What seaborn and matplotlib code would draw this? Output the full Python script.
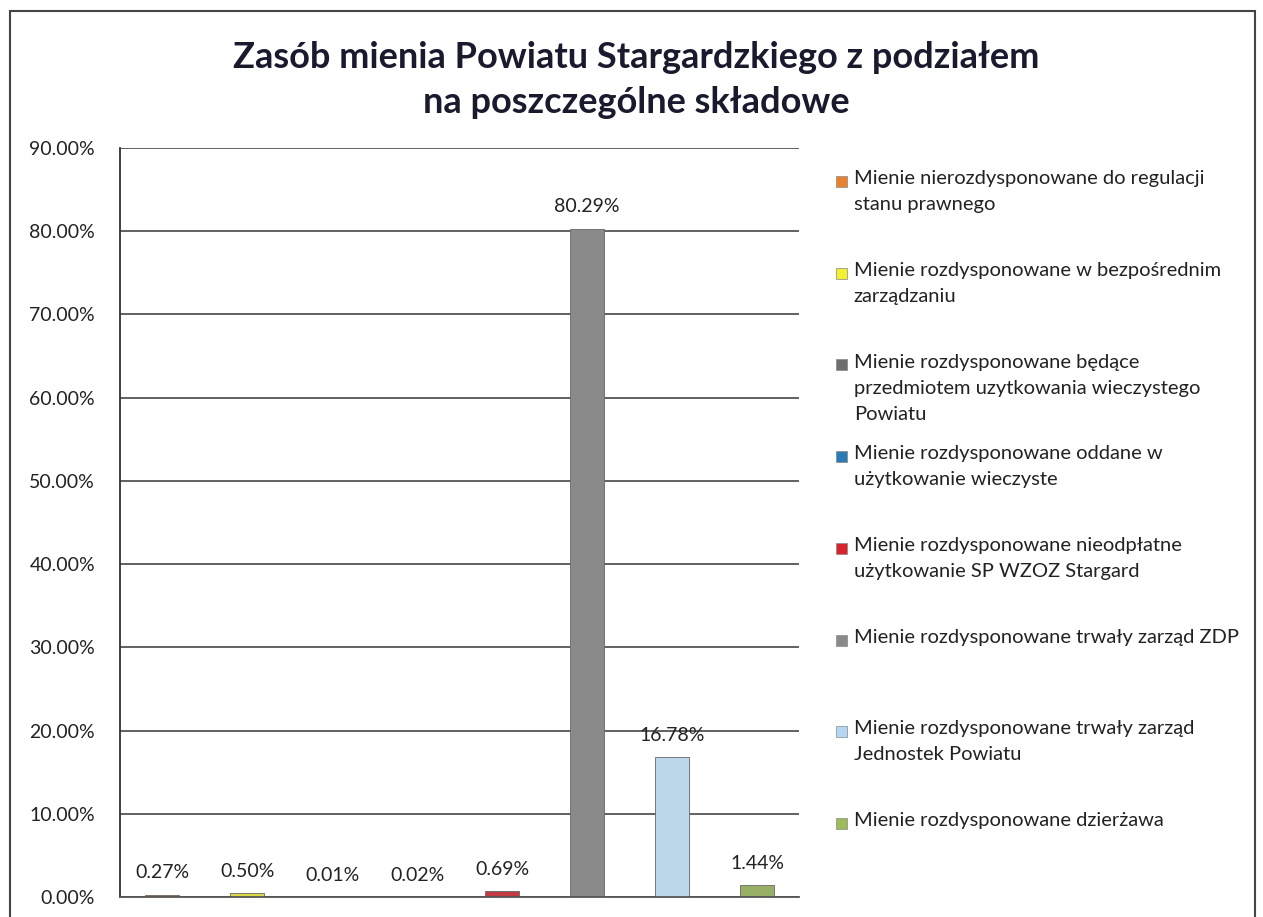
import seaborn as sns
import pandas as pd
import matplotlib.pyplot as plt
from matplotlib.patches import Rectangle
from matplotlib.ticker import FuncFormatter

#-----------------------------------------------------------------------------------------------------------------------
"""Data"""
categories = [
    "Mienie nierozdysponowane do regulacji\nstanu prawnego",
    "Mienie rozdysponowane w bezpośrednim\nzarządzaniu",
    "Mienie rozdysponowane będące\nprzedmiotem uzytkowania wieczystego\nPowiatu",
    "Mienie rozdysponowane oddane w\nużytkowanie wieczyste",
    "Mienie rozdysponowane nieodpłatne\nużytkowanie SP WZOZ Stargard",
    "Mienie rozdysponowane trwały zarząd ZDP",
    "Mienie rozdysponowane trwały zarząd\nJednostek Powiatu",
    "Mienie rozdysponowane dzierżawa",
]
shares = [0.27, 0.50, 0.01, 0.02, 0.69, 80.29, 16.78, 1.44]
colors = ['#e8822f', '#f2f030', '#6e6e6e', '#2a7bb5', '#d9232e', '#8a8a8a', '#b5d8f2', '#9dbb5a']

df = pd.DataFrame({'cat': categories, 'share': shares})

MyFont = 'Lato'

#-----------------------------------------------------------------------------------------------------------------------
"""Figure"""
sns.set_style('white')
plt.rcParams['font.family'] = [MyFont, 'DejaVu Sans']

fig = plt.figure(figsize=(12.63, 9.17), dpi=100)
ax = fig.add_axes([0.095, 0.0218, 0.538, 0.817])

sns.barplot(data=df, x='cat', y='share', hue='cat', palette=colors, dodge=False,
            legend=False, width=0.4, ax=ax, edgecolor='#666666', linewidth=0.6)

# data labels
for i, v in enumerate(shares):
    ax.text(i, v + 1.6, f"{v:.2f}%", ha='center', va='bottom', fontsize=14, color='#222222')

#-----------------------------------------------------------------------------------------------------------------------
"""Axes"""
ax.set_ylim(0, 90)
ax.set_yticks(range(0, 91, 10))
ax.yaxis.set_major_formatter(FuncFormatter(lambda y, p: f"{y:.2f}%"))
ax.tick_params(axis='y', labelsize=14, length=0, pad=18, colors='#222222')
ax.set_xticks([])
ax.set_xlabel('')
ax.set_ylabel('')
ax.grid(axis='y', color='#555555', linewidth=1.3)
ax.set_axisbelow(True)
for s in ['top', 'right']:
    ax.spines[s].set_visible(False)
ax.spines['left'].set_color('#333333')
ax.spines['left'].set_linewidth(1.3)
ax.spines['bottom'].set_color('#555555')
ax.spines['bottom'].set_linewidth(1.3)

#-----------------------------------------------------------------------------------------------------------------------
"""Title and legend"""
fig.text(0.504, 0.937, "Zasób mienia Powiatu Stargardzkiego z podziałem", ha='center', va='center',
         fontsize=26, fontweight='bold', color='#1a1a2e')
fig.text(0.504, 0.888, "na poszczególne składowe", ha='center', va='center',
         fontsize=26, fontweight='bold', color='#1a1a2e')

# legend: one slot per category, text top-aligned like the original
slot = 0.1
for i, (lab, c) in enumerate(zip(categories, colors)):
    y = 0.802 - i * slot
    fig.add_artist(Rectangle((0.662, y - 0.006), 0.0087, 0.012, transform=fig.transFigure,
                             facecolor=c, edgecolor='#888888', linewidth=0.5))
    fig.text(0.676, y + 0.0125, lab, ha='left', va='top', fontsize=14.5, color='#222222',
             linespacing=1.65)

# outer chart frame
fig.add_artist(Rectangle((0.008, -0.02), 0.986, 1.008, transform=fig.transFigure,
                         fill=False, edgecolor='#444444', linewidth=1.5))

plt.savefig('out.png', dpi=100)
